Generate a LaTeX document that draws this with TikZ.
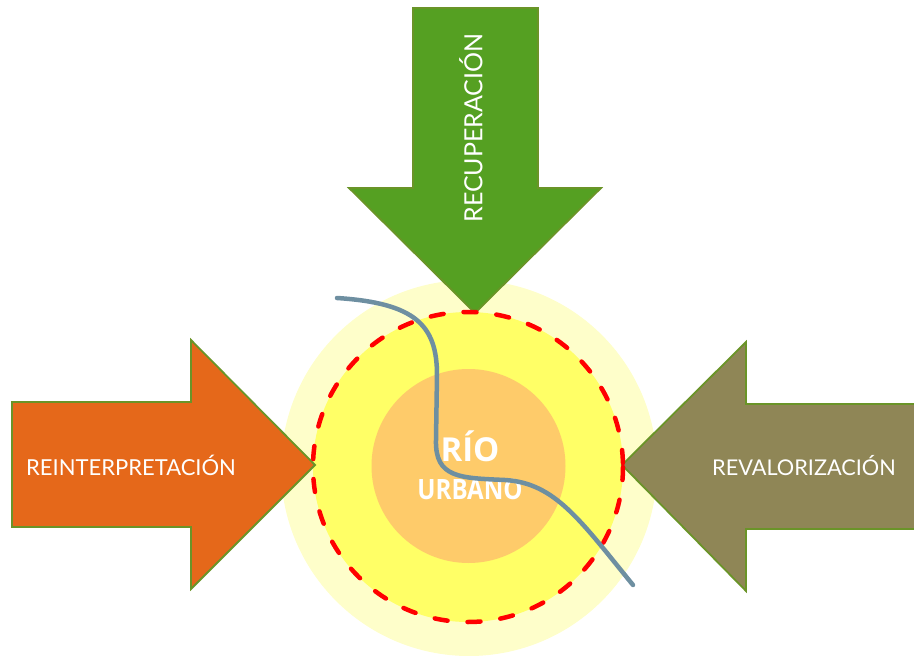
\documentclass[tikz,border=0pt]{standalone}
\usepackage{fontspec}
\newfontfamily\labelfont{Lato}
\newfontfamily\centerfont[FakeStretch=0.86]{Open Sans}
\newfontfamily\riofont{Open Sans}
\definecolor{paleyel}{HTML}{FEFECA}
\definecolor{yel}{HTML}{FFFF66}
\definecolor{orcirc}{HTML}{FECB6A}
\definecolor{arrgreen}{HTML}{55A022}
\definecolor{arrorange}{HTML}{E5681A}
\definecolor{arrolive}{HTML}{8F8656}
\definecolor{arrborder}{HTML}{6A9428}
\definecolor{river}{HTML}{6E8FA1}
\definecolor{dashred}{HTML}{FF0000}
\tikzset{
  bigarrow/.style={draw=arrborder, line width=1.8pt, line join=miter},
  lbl/.style={text=white, inner sep=0pt},
  ctr/.style={text=white, inner sep=0pt},
  dashcirc/.style={draw=dashred, line width=4.5pt, line cap=round, dash pattern=on 13pt off 20pt},
  riverline/.style={draw=river, line width=4.5pt, line cap=round}
}
\begin{document}
\begin{tikzpicture}[x=1pt,y=-1pt]
\useasboundingbox (0,0) rectangle (914,656);
% circles
\fill[paleyel] (469,468) circle (188);
\fill[yel] (468,467) circle (155);
\fill[orcirc] (468.5,466) circle (97);
% arrows
\filldraw[bigarrow, fill=arrgreen] (413,8) -- (538,8) -- (538,188) -- (601,188) -- (475,313) -- (349,188) -- (413,188) -- cycle;
\filldraw[bigarrow, fill=arrorange] (12,402) -- (191,402) -- (191,340) -- (315,465) -- (191,589) -- (191,527) -- (12,527) -- cycle;
\filldraw[bigarrow, fill=arrolive] (916,404) -- (746,404) -- (746,342) -- (622,465) -- (746,591) -- (746,529) -- (916,529);
% dashed boundary
\draw[dashcirc] (468,467) circle (155);
% labels
\node[lbl, rotate=90, font=\labelfont\fontsize{25}{30}\selectfont] (recup) at (471,128) {RECUPERACIÓN};
\node[lbl, font=\labelfont\fontsize{22}{26}\selectfont] (reint) at (131,465) {REINTERPRETACIÓN};
\node[lbl, font=\labelfont\fontsize{21.7}{26}\selectfont] (reval) at (804,466) {REVALORIZACIÓN};
\node[ctr, font=\riofont\bfseries\fontsize{33}{38}\selectfont] (rio) at (470,446) {RÍO};
\node[ctr, font=\centerfont\bfseries\fontsize{28}{32}\selectfont] (urbano) at (470,489) {URBANO};
% river
\draw[riverline] (337,298) .. controls (415,303) and (437,325) .. (437,375)
  -- (436,440) .. controls (435,478) and (460,478) .. (505,480)
  .. controls (555,483) and (580,520) .. (633,585);
\end{tikzpicture}
\end{document}
